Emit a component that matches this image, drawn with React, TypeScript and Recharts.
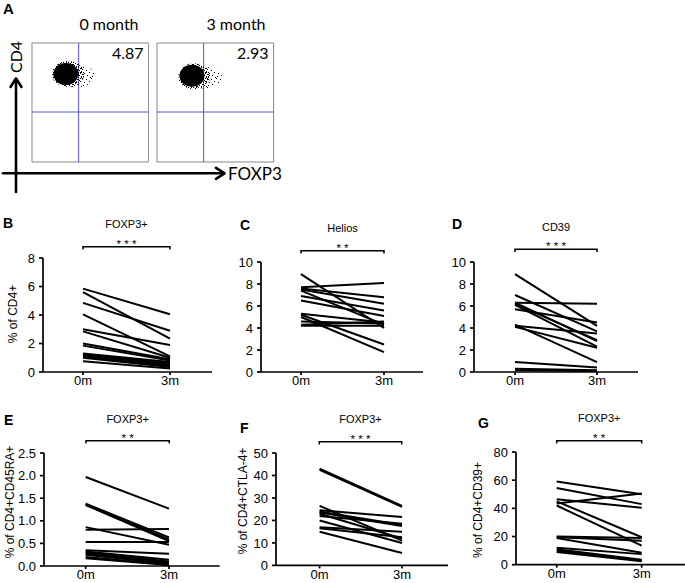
import React from "react"
import {
  LineChart,
  Line,
  XAxis,
  YAxis,
  ScatterChart,
  Scatter,
  ReferenceLine,
  ReferenceArea,
} from "recharts"

const SANS = "'Liberation Sans', Arial, Helvetica, sans-serif"
const FLOW = "Lato, 'Open Sans', sans-serif"

// time points on the x axis
const visits = ["0m", "3m"]

// B: FOXP3+ (% of CD4+)
const foxp3Pre = [5.85, 5.6, 4.85, 4.05, 3.0, 2.85, 2.0, 1.85, 1.3, 1.25, 1.2, 1.1, 1.0, 0.75]
const foxp3Post = [4.05, 2.35, 2.9, 1.1, 1.9, 1.0, 0.9, 0.8, 0.7, 0.6, 0.5, 0.4, 0.35, 0.25]
// C: Helios
const heliosPre = [8.9, 7.7, 7.6, 7.5, 7.4, 6.9, 6.5, 5.3, 5.2, 5.0, 4.6, 4.3, 4.2]
const heliosPost = [4.0, 8.1, 6.8, 6.2, 4.3, 5.6, 5.1, 4.5, 2.5, 1.8, 4.4, 4.6, 4.2]
// D: CD39
const cd39Pre = [8.9, 7.0, 6.3, 6.3, 6.2, 6.1, 5.7, 4.3, 4.2, 4.1, 0.9, 0.3, 0.15]
const cd39Post = [4.2, 3.7, 6.2, 2.8, 2.9, 2.3, 4.5, 0.9, 3.5, 2.2, 0.4, 0.15, 0.1]
// E: FOXP3+ (% of CD4+CD45RA+)
const naivePre = [1.97, 1.38, 1.36, 1.35, 0.86, 0.8, 0.53, 0.35, 0.32, 0.3, 0.27, 0.25, 0.2, 0.17]
const naivePost = [1.27, 0.63, 0.58, 0.55, 0.47, 0.82, 0.53, 0.27, 0.14, 0.1, 0.07, 0.05, 0.03, 0.02]
// F: FOXP3+ (% of CD4+CTLA-4+)
const ctla4Pre = [43, 42.5, 26.5, 24.5, 24, 23.5, 23, 22, 20, 17, 16.5, 15]
const ctla4Post = [26.5, 26, 11, 21.5, 18, 17.5, 12, 18.5, 10, 15, 12.5, 5.5]
// G: FOXP3+ (% of CD4+CD39+)
const cd39posPre = [59, 54.5, 46.5, 45, 43.5, 42, 20, 19.5, 19, 12, 11, 10, 9]
const cd39posPost = [50, 43, 40.5, 19.5, 50.5, 13.5, 19, 17, 8.5, 7.5, 3.5, 3, 2.5]

const ticks8 = [0, 2, 4, 6, 8]
const ticks10 = [0, 2, 4, 6, 8, 10]
const ticks25 = [0, 0.5, 1, 1.5, 2, 2.5]
const ticks50 = [0, 10, 20, 30, 40, 50]
const ticks80 = [0, 20, 40, 60, 80]

// A: flow plots (arbitrary 0-100 channel scale)
const gateX = 40
const gateY = 42
const monthLabels = ["0 month", "3 month"]
const quadPct = ["4.87", "2.93"]
const core0 = [{ x: 29, y: 74 }]
const mid0 = [{ x: 31, y: 74 }]
const halo0 = [{ x: 37, y: 72 }]
const core3 = [{ x: 30, y: 72.5 }]
const mid3 = [{ x: 32, y: 72 }]
const halo3 = [{ x: 38, y: 71 }]
const flowTicksX = [8, 10, 12, 18.5, 23, 26, 28, 30, 32, 33.5, 41.5, 46, 49.5, 52, 54, 56, 57.5, 67, 71.5, 76, 78.5, 81.5, 84, 86, 87]
const flowTicksY = [5, 17, 29, 41, 54, 65, 77, 99]

function toRows(pre: number[], post: number[]) {
  return visits.map((t, i) => {
    const row: any = { t }
    pre.forEach((v, k) => {
      row["s" + k] = i === 0 ? v : post[k]
    })
    return row
  })
}

const panels = [
  { id: "B", pre: foxp3Pre, post: foxp3Post, max: 8, ticks: ticks8, dec: 0, axisX: 43, topY: 257.7, zeroY: 371.7, x0: 83, x3: 170, xEnd: 212, ylabel: "% of CD4+", labelX: 13, labelY: 314, title: "FOXP3+", titleY: 228, stars: "* * *", bracketY: 246.7, letterX: 3, letterY: 228 },
  { id: "C", pre: heliosPre, post: heliosPost, max: 10, ticks: ticks10, dec: 0, axisX: 261, topY: 261.7, zeroY: 371.7, x0: 301, x3: 384, xEnd: 423, ylabel: "", labelX: 0, labelY: 0, title: "Helios", titleY: 232, stars: "*  *", bracketY: 250.7, letterX: 240, letterY: 230 },
  { id: "D", pre: cd39Pre, post: cd39Post, max: 10, ticks: ticks10, dec: 0, axisX: 474, topY: 261.7, zeroY: 371.7, x0: 515, x3: 597, xEnd: 638, ylabel: "", labelX: 0, labelY: 0, title: "CD39", titleY: 231, stars: "* * *", bracketY: 249.3, letterX: 452, letterY: 229 },
  { id: "E", pre: naivePre, post: naivePost, max: 2.5, ticks: ticks25, dec: 1, axisX: 44.3, topY: 452.7, zeroY: 565.7, x0: 86, x3: 169.3, xEnd: 220, ylabel: "% of CD4+CD45RA+", labelX: 10, labelY: 502, title: "FOXP3+", titleY: 422.5, stars: "* *", bracketY: 440.7, letterX: 4, letterY: 425 },
  { id: "F", pre: ctla4Pre, post: ctla4Post, max: 50, ticks: ticks50, dec: 0, axisX: 275.7, topY: 453.3, zeroY: 565.7, x0: 319.3, x3: 401.7, xEnd: 448, ylabel: "% of CD4+CTLA-4+", labelX: 243, labelY: 501, title: "FOXP3+", titleY: 422.5, stars: "* * *", bracketY: 441.7, letterX: 240, letterY: 433 },
  { id: "G", pre: cd39posPre, post: cd39posPost, max: 80, ticks: ticks80, dec: 0, axisX: 516, topY: 452.3, zeroY: 565, x0: 556.7, x3: 641.7, xEnd: 685, ylabel: "% of CD4+CD39+", labelX: 478, labelY: 510, title: "FOXP3+", titleY: 422, stars: "* *", bracketY: 440.7, letterX: 478, letterY: 428 },
]

function LinePanel({ p }: { p: any }) {
  const yw = 60
  const top = 10
  const xh = 22
  const plotW = p.xEnd - p.axisX
  const plotH = p.zeroY - p.topY
  const rows = toRows(p.pre, p.post)
  return (
    <div style={{ position: "absolute", left: p.axisX - yw, top: p.topY - top }}>
      <LineChart
        width={yw + plotW}
        height={top + plotH + xh}
        data={rows}
        margin={{ top, right: 0, bottom: 0, left: 0 }}
      >
        <XAxis
          dataKey="t"
          padding={{ left: p.x0 - p.axisX, right: p.xEnd - p.x3 }}
          height={xh}
          interval={0}
          tickSize={3}
          tickMargin={1}
          stroke="#000"
          strokeWidth={1.7}
          tick={{ fill: "#000", fontSize: 13, fontFamily: SANS }}
        />
        <YAxis
          type="number"
          domain={[0, p.max]}
          ticks={p.ticks}
          width={yw}
          tickSize={4}
          tickMargin={4}
          stroke="#000"
          strokeWidth={1.7}
          tickFormatter={(v: number) => v.toFixed(p.dec)}
          tick={{ fill: "#000", fontSize: 13, fontFamily: SANS }}
        />
        {p.pre.map((_: number, k: number) => (
          <Line
            key={k}
            dataKey={"s" + k}
            stroke="#000"
            strokeWidth={2}
            dot={false}
            activeDot={false}
            isAnimationActive={false}
          />
        ))}
      </LineChart>
    </div>
  )
}

function blob(rx: number, ry: number, fill: string) {
  return (props: any) => <ellipse cx={props.cx} cy={props.cy} rx={rx} ry={ry} fill={fill} />
}

function FlowPanel({ left, core, mid, halo, pct }: any) {
  const boxW = 116.6
  const boxH = 119
  return (
    <div style={{ position: "absolute", left: left - 4, top: 43.3 - 1 }}>
      <ScatterChart width={4 + boxW + 1} height={1 + boxH + 4} margin={{ top: 1, right: 1, bottom: 0, left: 0 }}>
        <XAxis type="number" dataKey="x" domain={[0, 100]} ticks={flowTicksX} height={4} tickSize={3} axisLine={false} tick={false} tickLine={{ stroke: "#888" }} />
        <YAxis type="number" dataKey="y" domain={[0, 100]} ticks={flowTicksY} width={4} tickSize={3} axisLine={false} tick={false} tickLine={{ stroke: "#888" }} />
        <ReferenceArea
          x1={0}
          x2={100}
          y1={0}
          y2={100}
          fill="none"
          stroke="#888"
          strokeWidth={1}
          label={{ value: pct, position: "insideTopRight", offset: 5, fill: "#000", fontSize: 16, fontFamily: FLOW }}
        />
        <ReferenceLine x={gateX} stroke="#5555d0" strokeWidth={1} />
        <ReferenceLine y={gateY} stroke="#5555d0" strokeWidth={1} />
        <Scatter data={halo} isAnimationActive={false} shape={blob(21, 11, "url(#dotsSparse)")} />
        <Scatter data={mid} isAnimationActive={false} shape={blob(16, 13, "url(#dotsDense)")} />
        <Scatter data={core} isAnimationActive={false} shape={blob(12.5, 11, "#000")} />
      </ScatterChart>
    </div>
  )
}

export default function App() {
  return (
    <div style={{ position: "absolute", left: 0, top: 0, width: 685, height: 583, background: "#fff", overflow: "hidden" }}>
      <svg width={0} height={0} style={{ position: "absolute" }}>
        <defs>
          <pattern id="dotsSparse" width="9" height="9" patternUnits="userSpaceOnUse">
            <rect x="0" y="0" width="1" height="1" fill="#000" />
            <rect x="4" y="1" width="1" height="1" fill="#000" />
            <rect x="7" y="3" width="1" height="1" fill="#000" />
            <rect x="2" y="4" width="1" height="1" fill="#000" />
            <rect x="5" y="6" width="1" height="1" fill="#000" />
            <rect x="1" y="7" width="1" height="1" fill="#000" />
            <rect x="8" y="8" width="1" height="1" fill="#000" />
          </pattern>
          <pattern id="dotsDense" width="5" height="5" patternUnits="userSpaceOnUse">
            <rect x="0" y="0" width="1" height="1" fill="#000" />
            <rect x="2" y="1" width="1" height="1" fill="#000" />
            <rect x="4" y="2" width="1" height="1" fill="#000" />
            <rect x="1" y="3" width="1" height="1" fill="#000" />
            <rect x="3" y="4" width="1" height="1" fill="#000" />
            <rect x="3" y="0" width="1" height="1" fill="#000" />
            <rect x="0" y="2" width="1" height="1" fill="#000" />
          </pattern>
        </defs>
      </svg>

      <FlowPanel left={31.7} core={core0} mid={mid0} halo={halo0} pct={quadPct[0]} />
      <FlowPanel left={157.3} core={core3} mid={mid3} halo={halo3} pct={quadPct[1]} />

      {panels.map((p) => (
        <LinePanel key={p.id} p={p} />
      ))}

      <svg width={685} height={583} style={{ position: "absolute", left: 0, top: 0, pointerEvents: "none" }}>
        {/* panel A annotations */}
        <text x={3} y={14} fontFamily={SANS} fontWeight="bold" fontSize={15}>A</text>
        <text x={109} y={30} fontFamily={FLOW} fontSize={16} textAnchor="middle">{monthLabels[0]}</text>
        <text x={236} y={30} fontFamily={FLOW} fontSize={16} textAnchor="middle">{monthLabels[1]}</text>
        <text x={15} y={57} fontFamily={FLOW} fontSize={16} textAnchor="middle" dominantBaseline="central" transform="rotate(-90 15 57)">CD4</text>
        <text x={228} y={180} fontFamily={FLOW} fontSize={17}>FOXP3</text>
        <g stroke="#000" strokeWidth={2.6} fill="none" strokeLinecap="round" strokeLinejoin="round">
          <line x1={16} y1={192} x2={16} y2={79} />
          <polyline points="10.5,87 16,78.5 21.5,87" />
          <line x1={3} y1={173.3} x2={224} y2={173.3} />
          <polyline points="216,167.8 224.5,173.3 216,178.8" />
        </g>

        {panels.map((p) => (
          <g key={p.id}>
            <text x={p.letterX} y={p.letterY} fontFamily={SANS} fontWeight="bold" fontSize={14}>{p.id}</text>
            <text x={(p.x0 + p.x3) / 2} y={p.titleY} fontFamily={SANS} fontSize={11} textAnchor="middle">{p.title}</text>
            <text x={(p.x0 + p.x3) / 2} y={p.bracketY + 1} fontFamily={SANS} fontSize={11.5} textAnchor="middle">{p.stars}</text>
            <path
              d={`M${p.x0} ${p.bracketY + 2.8} V${p.bracketY} H${p.x3} V${p.bracketY + 2.8}`}
              stroke="#000"
              strokeWidth={1.5}
              fill="none"
            />
            {p.ylabel && (
              <text
                x={p.labelX}
                y={p.labelY}
                fontFamily={SANS}
                fontSize={12}
                textAnchor="middle"
                dominantBaseline="central"
                transform={`rotate(-90 ${p.labelX} ${p.labelY})`}
              >
                {p.ylabel}
              </text>
            )}
          </g>
        ))}
      </svg>
    </div>
  )
}
